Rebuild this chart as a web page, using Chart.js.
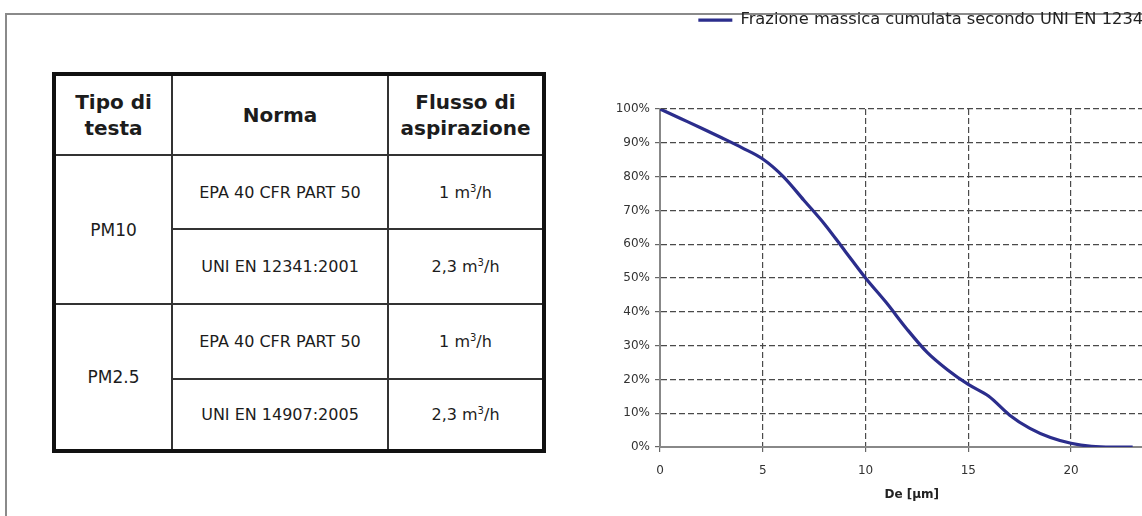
<!DOCTYPE html>
<html>
<head>
<meta charset="utf-8">
<script src="https://cdn.jsdelivr.net/npm/chart.js@4.4.0/dist/chart.umd.min.js"></script>
<style>
html, body { margin: 0; padding: 0; background: #fff; width: 1142px; height: 516px; overflow: hidden; position: relative; }
#frame { position: absolute; left: 5px; top: 13px; width: 1300px; height: 600px; border-top: 2px solid #8a8a8a; border-left: 2px solid #8a8a8a; }
#tab { position: absolute; left: 52px; top: 72px; width: 490px; border-collapse: collapse; table-layout: fixed;
       font-family: "DejaVu Sans", sans-serif; color: #1c1c1c; border: 4px solid #111; }
#tab th, #tab td { border: 2px solid #333; text-align: center; vertical-align: middle; padding: 0; }
#tab th { font-size: 20px; font-weight: bold; line-height: 26px; }
#tab td { font-size: 16px; }
#tab td.tipo { font-size: 17px; }
#tab sup { font-size: 10px; vertical-align: 6px; line-height: 0; }
#box { position: absolute; left: 590px; top: 0; width: 600px; height: 516px; }
</style>
</head>
<body>
<div id="frame"></div>
<table id="tab">
  <colgroup><col style="width:118px"><col style="width:216px"><col style="width:156px"></colgroup>
  <tr style="height:81px"><th>Tipo di<br>testa</th><th>Norma</th><th>Flusso di<br>aspirazione</th></tr>
  <tr style="height:74px"><td class="tipo" rowspan="2">PM10</td><td>EPA 40 CFR PART 50</td><td>1 m<sup>3</sup>/h</td></tr>
  <tr style="height:75px"><td>UNI EN 12341:2001</td><td>2,3 m<sup>3</sup>/h</td></tr>
  <tr style="height:75px"><td class="tipo" rowspan="2">PM2.5</td><td>EPA 40 CFR PART 50</td><td>1 m<sup>3</sup>/h</td></tr>
  <tr style="height:72px"><td>UNI EN 14907:2005</td><td>2,3 m<sup>3</sup>/h</td></tr>
</table>
<div id="box"><canvas id="myChart"></canvas></div>
<script>
// diametro aerodinamico (µm) e frazione cumulata (%)
const diametri = [0, 1, 2, 3, 4, 5, 6, 7, 8, 9, 10, 11, 12, 13, 14, 15, 16, 17, 18, 19, 20, 21, 22, 23]
const frazione = [100, 97.2, 94.4, 91.5, 88.5, 85.2, 80, 73, 66, 58, 50, 42.8, 35, 28, 22.8, 18.5, 15, 9.5, 5.5, 2.8, 1.1, 0.2, 0, 0]
const serieLabel = 'Frazione massica cumulata secondo UNI EN 12341'
const xTitle = 'De [µm]'
const xStep = 5
const yStep = 10

const punti = diametri.map((d, i) => ({ x: d, y: frazione[i] }))

const tickFont = { family: 'DejaVu Sans', size: 12 }

var ctx = document.getElementById('myChart').getContext('2d');
const myChart = new Chart(ctx, {
    type: 'line',
    data: {
        datasets: [{
            label: serieLabel,
            data: punti,
            borderColor: '#2b2d8c',
            backgroundColor: '#2b2d8c',
            borderWidth: 3.2,
            pointRadius: 0,
            pointStyle: 'line',
            cubicInterpolationMode: 'monotone'
        }]
    },
    options: {
        responsive: true,
        maintainAspectRatio: false,
        animation: false,
        layout: { padding: { top: 2, right: 26.5, left: 0, bottom: 0 } },
        plugins: {
            legend: {
                position: 'top',
                align: 'end',
                labels: {
                    usePointStyle: true,
                    pointStyle: 'line',
                    pointStyleWidth: 34,
                    padding: 10,
                    color: '#222',
                    font: { family: 'DejaVu Sans', size: 16.3 }
                }
            },
            // spazio vuoto tra legenda e grafico
            title: {
                display: true,
                text: '',
                weight: 500,
                font: { size: 12 },
                padding: { top: 0, bottom: 56.3 }
            },
            tooltip: { enabled: false }
        },
        scales: {
            x: {
                type: 'linear',
                min: 0,
                max: 24.5,
                afterFit: s => { s.height = 69 },
                ticks: { stepSize: xStep, color: '#333', font: tickFont, padding: 12, maxRotation: 0 },
                grid: { color: '#4a4a4a', lineWidth: 1.2, tickLength: 5, tickColor: '#666' },
                border: { color: '#888', width: 2, dash: [6, 3] },
                title: { display: true, text: xTitle, color: '#222', font: { family: 'DejaVu Sans', size: 12, weight: 'bold' }, padding: { top: 4, bottom: 14 } }
            },
            y: {
                min: 0,
                max: 100,
                afterFit: s => { s.width = 70 },
                ticks: { stepSize: yStep, color: '#333', font: tickFont, padding: 5, callback: v => v + '%' },
                grid: { color: '#4a4a4a', lineWidth: 1.2, tickLength: 5, tickColor: '#666' },
                border: { color: '#888', width: 2, dash: [6, 3] }
            }
        }
    }
})
</script>
</body>
</html>
